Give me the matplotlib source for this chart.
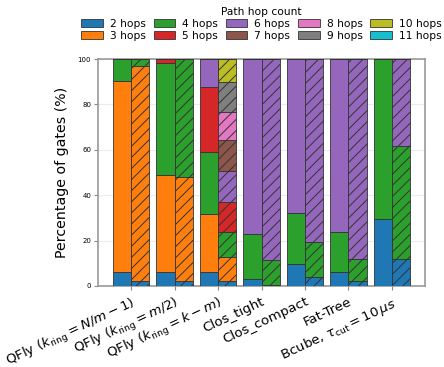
import matplotlib
matplotlib.use("Agg")
import matplotlib.pyplot as plt
import numpy as np

categories = [r"QFly ($k_{\rm ring} = N/m - 1$)",
              r"QFly ($k_{\rm ring} = m/2$)",
              r"QFly ($k_{\rm ring} = k - m$)",
              "Clos_tight", "Clos_compact", "Fat-Tree",
              r"Bcube, $\tau_{\rm cut} = 10\,\mu s$"]
hop_labels = ["2 hops", "3 hops", "4 hops", "5 hops", "6 hops",
              "7 hops", "8 hops", "9 hops", "10 hops", "11 hops"]

# percentage per hop count, columns: categories
solid = {
    "2 hops":  [6.3, 6.3, 6.3, 3.2, 9.7, 6.3, 29.5],
    "3 hops":  [83.9, 42.4, 25.5, 0, 0, 0, 0],
    "4 hops":  [9.8, 49.4, 27.4, 19.5, 22.4, 17.5, 70.5],
    "5 hops":  [0, 1.9, 28.6, 0, 0, 0, 0],
    "6 hops":  [0, 0, 12.2, 77.3, 67.9, 76.2, 0],
    "7 hops":  [0, 0, 0, 0, 0, 0, 0],
    "8 hops":  [0, 0, 0, 0, 0, 0, 0],
    "9 hops":  [0, 0, 0, 0, 0, 0, 0],
    "10 hops": [0, 0, 0, 0, 0, 0, 0],
    "11 hops": [0, 0, 0, 0, 0, 0, 0],
}
hatched = {
    "2 hops":  [2.3, 2.3, 2.3, 0.6, 4.0, 2.3, 11.9],
    "3 hops":  [94.5, 45.5, 10.3, 0, 0, 0, 0],
    "4 hops":  [3.2, 52.2, 11.3, 11.0, 15.5, 9.6, 49.7],
    "5 hops":  [0, 0, 13.0, 0, 0, 0, 0],
    "6 hops":  [0, 0, 13.8, 88.4, 80.5, 88.1, 38.4],
    "7 hops":  [0, 0, 13.5, 0, 0, 0, 0],
    "8 hops":  [0, 0, 12.6, 0, 0, 0, 0],
    "9 hops":  [0, 0, 13.1, 0, 0, 0, 0],
    "10 hops": [0, 0, 10.1, 0, 0, 0, 0],
    "11 hops": [0, 0, 0, 0, 0, 0, 0],
}

colors = plt.get_cmap("tab10").colors
plt.rcParams['hatch.linewidth'] = 0.7

fig = plt.figure(figsize=(4.44, 3.67), dpi=100)
ax = fig.add_axes([0.221, 0.221, 0.736, 0.618])

x = np.arange(len(categories))
w = 0.42
bs = np.zeros(len(categories))
bh = np.zeros(len(categories))
for i, h in enumerate(hop_labels):
    vs = np.array(solid[h], dtype=float)
    vh = np.array(hatched[h], dtype=float)
    ax.bar(x - w / 2, vs, w, bottom=bs, color=colors[i], edgecolor="#333333",
           linewidth=0.6, label=h, zorder=3)
    ax.bar(x + w / 2, vh, w, bottom=bh, color=colors[i], edgecolor="#333333",
           linewidth=0.6, hatch="///", zorder=3)
    bs += vs
    bh += vh

ax.set_ylim(0, 100)
ax.set_yticks([0, 20, 40, 60, 80, 100])
ax.tick_params(axis="y", labelsize=5, length=3, pad=2, color="#888888")
ax.tick_params(axis="x", length=3, color="#888888")
ax.set_xticks(x)
ax.set_xticklabels(categories, rotation=25, ha="right", rotation_mode="anchor",
                   fontsize=9.6)
ax.set_ylabel("Percentage of gates (%)", fontsize=10.2, labelpad=6)
ax.yaxis.grid(True, color="#ececec", linewidth=0.8, zorder=0)
ax.set_axisbelow(True)
for s in ax.spines.values():
    s.set_color("#999999")
    s.set_linewidth(1.2)

ax.legend(loc="lower center", bbox_to_anchor=(0.5, 1.052), ncol=5, frameon=False,
          title="Path hop count", fontsize=7.7, title_fontsize=7.7,
          handlelength=2.0, handleheight=0.75, columnspacing=0.75,
          handletextpad=0.65, labelspacing=0.2, borderpad=0.1)

fig.savefig("out.png", dpi=100)
